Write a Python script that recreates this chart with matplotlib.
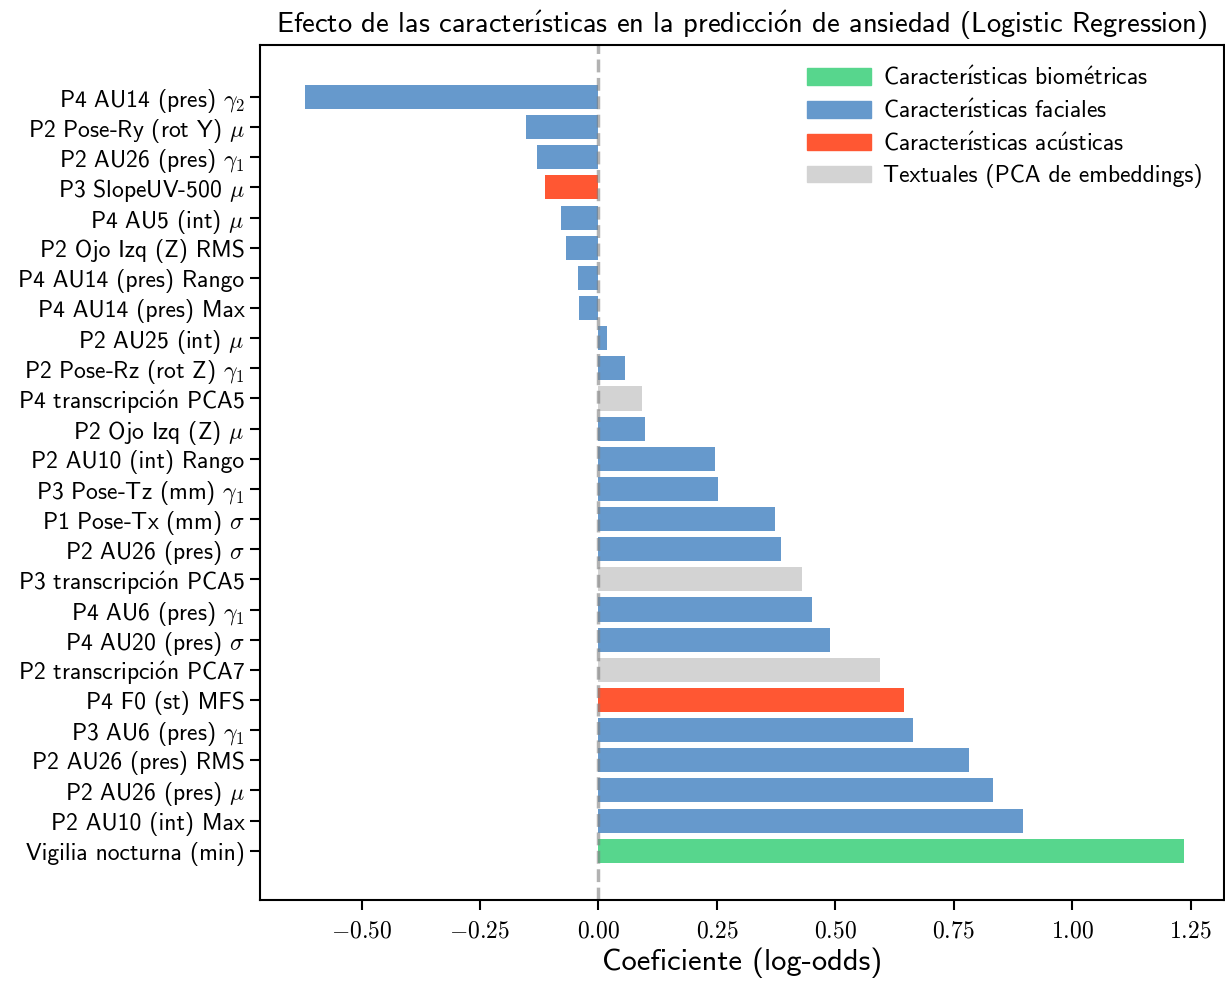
import matplotlib
matplotlib.use("Agg")
import matplotlib.pyplot as plt
from matplotlib.patches import Patch
from matplotlib.ticker import FuncFormatter

plt.rcParams['font.family'] = ['cmss10', 'DejaVu Sans']
plt.rcParams['mathtext.fontset'] = 'cm'
plt.rcParams['axes.unicode_minus'] = False

# Features sorted from top to bottom (as displayed)
features = [
    r"P4 AU14 (pres) $\gamma_2$",
    r"P2 Pose-Ry (rot Y) $\mu$",
    r"P2 AU26 (pres) $\gamma_1$",
    r"P3 SlopeUV-500 $\mu$",
    r"P4 AU5 (int) $\mu$",
    "P2 Ojo Izq (Z) RMS",
    "P4 AU14 (pres) Rango",
    "P4 AU14 (pres) Max",
    r"P2 AU25 (int) $\mu$",
    r"P2 Pose-Rz (rot Z) $\gamma_1$",
    "P4 transcripción PCA5",
    r"P2 Ojo Izq (Z) $\mu$",
    "P2 AU10 (int) Rango",
    r"P3 Pose-Tz (mm) $\gamma_1$",
    r"P1 Pose-Tx (mm) $\sigma$",
    r"P2 AU26 (pres) $\sigma$",
    "P3 transcripción PCA5",
    r"P4 AU6 (pres) $\gamma_1$",
    r"P4 AU20 (pres) $\sigma$",
    "P2 transcripción PCA7",
    "P4 F0 (st) MFS",
    r"P3 AU6 (pres) $\gamma_1$",
    "P2 AU26 (pres) RMS",
    r"P2 AU26 (pres) $\mu$",
    "P2 AU10 (int) Max",
    "Vigilia nocturna (min)",
]
coefs = [-0.620, -0.152, -0.129, -0.112, -0.080, -0.068, -0.044, -0.042,
         0.019, 0.057, 0.091, 0.099, 0.247, 0.252, 0.372, 0.385, 0.429,
         0.450, 0.489, 0.594, 0.645, 0.664, 0.783, 0.833, 0.897, 1.237]
groups = ["fac", "fac", "fac", "aco", "fac", "fac", "fac", "fac",
          "fac", "fac", "txt", "fac", "fac", "fac", "fac", "fac", "txt",
          "fac", "fac", "txt", "aco", "fac", "fac", "fac", "fac", "bio"]

colors = {"bio": "#57d68d", "fac": "#6699cc", "aco": "#ff5733", "txt": "#d3d3d3"}
legend_names = {"bio": "Características biométricas",
                "fac": "Características faciales",
                "aco": "Características acústicas",
                "txt": "Textuales (PCA de embeddings)"}
title = "Efecto de las características en la predicción de ansiedad (Logistic Regression)"


def tex_accents(s):
    # cmss10 has no accented glyphs: build them with mathtext accents
    rep = {"í": r"$\mathsf{\'{\i}}$", "ó": r"$\mathsf{\acute{o}}$",
           "é": r"$\mathsf{\acute{e}}$", "ú": r"$\mathsf{\acute{u}}$"}
    for k, v in rep.items():
        s = s.replace(k, v)
    return s


fig, ax = plt.subplots(figsize=(12.25, 9.81), dpi=100)
fig.subplots_adjust(left=0.212, right=0.999, top=0.954, bottom=0.083)

n = len(features)
ypos = list(range(n - 1, -1, -1))
ax.barh(ypos, coefs, height=0.8, color=[colors[g] for g in groups])
ax.axvline(0, color="gray", linestyle="--", linewidth=2.5, alpha=0.6)

ax.set_yticks(ypos)
ax.set_yticklabels([tex_accents(f) for f in features], fontsize=17)
ax.set_ylim(-1.62, n - 1 + 1.72)
ax.set_xlim(-0.715, 1.32)
ax.set_xticks([-0.5, -0.25, 0, 0.25, 0.5, 0.75, 1.0, 1.25])
ax.xaxis.set_major_formatter(FuncFormatter(lambda v, p: f"${v:.2f}$"))
ax.tick_params(axis="x", labelsize=17, length=7, width=1.5, pad=8)
ax.tick_params(axis="y", length=7, width=1.5, pad=4)
for s in ax.spines.values():
    s.set_linewidth(1.5)

ax.set_xlabel("Coeficiente (log-odds)", fontsize=22)
ax.set_title(tex_accents(title), fontsize=20.5, pad=9)

handles = [Patch(color=colors[k], label=tex_accents(legend_names[k]))
           for k in ["bio", "fac", "aco", "txt"]]
ax.legend(handles=handles, loc="upper right", frameon=False, fontsize=17,
          handlelength=2.7, handleheight=0.7, handletextpad=0.5,
          labelspacing=0.38)

fig.savefig("out.png", dpi=100)
